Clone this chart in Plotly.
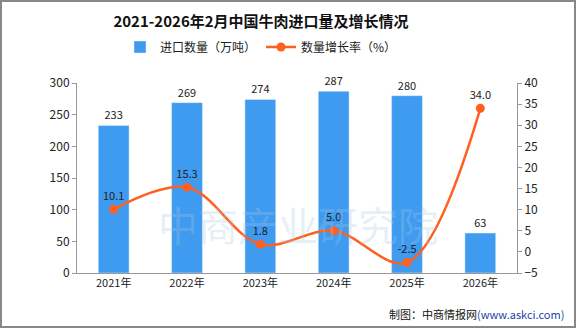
import plotly.graph_objects as go

years = ["2021年", "2022年", "2023年", "2024年", "2025年", "2026年"]
volume = [233, 269, 274, 287, 280, 63]
growth = [10.1, 15.3, 1.8, 5.0, -2.5, 34.0]

FONT = "Noto Sans CJK SC"
BAR_COLOR = "#3E9BF0"
LINE_COLOR = "#FF5F1F"

L, R, T, B = 77, 59, 83, 55
W, H = 576, 328
pw, ph = W - L - R, H - T - B

def px_x(p):
    return (p - L) / pw

def px_y(p):
    return (H - B - p) / ph

fig = go.Figure()
fig.add_trace(go.Bar(
    x=years, y=volume, name="进口数量（万吨）",
    marker_color=BAR_COLOR, width=0.42,
    text=[str(v) for v in volume], textposition="outside",
    textfont=dict(size=11, color="#222", family=FONT),
    cliponaxis=False,
))
fig.add_trace(go.Scatter(
    x=years, y=growth, name="数量增长率（%）", yaxis="y2",
    mode="lines+markers+text",
    line=dict(color=LINE_COLOR, width=2.5, shape="spline", smoothing=1.0),
    marker=dict(size=9, color=LINE_COLOR),
    text=[f"{v:.1f}" for v in growth], textposition="top center",
    textfont=dict(size=11, color="#222", family=FONT),
    cliponaxis=False,
))

def axis_common(**kw):
    d = dict(showgrid=False, zeroline=False, showline=True, linecolor="#999",
             linewidth=1, ticks="outside", tickcolor="#999", ticklen=4,
             tickfont=dict(size=12, color="#222", family=FONT))
    d.update(kw)
    return d

fig.update_layout(
    width=W, height=H,
    margin=dict(l=L, r=R, t=T, b=B),
    paper_bgcolor="white", plot_bgcolor="white",
    font=dict(family=FONT, color="#222"),
    title=dict(text="<b>2021-2026年2月中国牛肉进口量及增长情况</b>",
               x=px_x(261), xref="paper", xanchor="center",
               y=1 - 22 / H, yanchor="middle",
               font=dict(size=15, family=FONT, color="#111")),
    legend=dict(orientation="h", x=px_x(120), xanchor="left",
                y=px_y(47), yanchor="middle", yref="paper",
                font=dict(size=12, family=FONT, color="#222"),
                itemwidth=30, tracegroupgap=0, bgcolor="rgba(0,0,0,0)"),
    xaxis=axis_common(ticks="", tickfont=dict(size=11, color="#222", family=FONT)),
    yaxis=axis_common(range=[0, 300], dtick=50),
    yaxis2=axis_common(range=[-5, 40], dtick=5, overlaying="y", side="right"),
    showlegend=True,
)

# watermark text
fig.add_annotation(text="中商产业研究院", xref="paper", yref="paper",
                   x=px_x(298), y=px_y(255), showarrow=False,
                   font=dict(size=40, color="rgba(170,200,225,0.3)", family=FONT))

# source
fig.add_annotation(text="制图：中商情报网<span style='color:#1F3FA8'>(www.askci.com)</span>",
                   xref="paper", yref="paper", x=px_x(566), y=px_y(314),
                   xanchor="right", yanchor="middle", showarrow=False,
                   font=dict(size=11, color="#111", family=FONT))

# frame
fig.add_shape(type="rect", xref="paper", yref="paper",
              x0=px_x(1), x1=px_x(575), y0=px_y(327), y1=px_y(1),
              line=dict(color="#888", width=2), layer="above")

fig.write_html("out.html")
